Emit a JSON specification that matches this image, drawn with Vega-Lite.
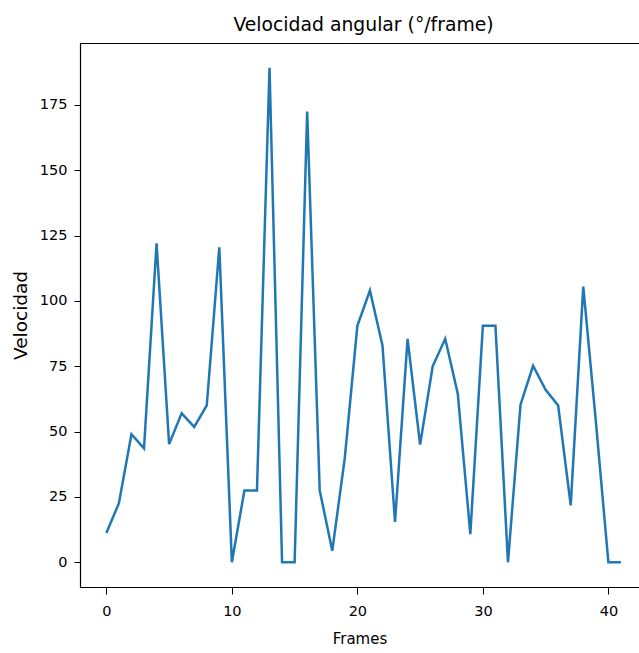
{
  "$schema": "https://vega.github.io/schema/vega-lite/v6.json",
  "width": 559,
  "height": 544,
  "autosize": {"type": "none"},
  "padding": {"left": 80, "top": 43, "right": 0, "bottom": 66},
  "title": {
    "text": "Velocidad angular (°/frame)",
    "font": "DejaVu Sans",
    "fontSize": 18.8,
    "fontWeight": "normal",
    "color": "#000000",
    "anchor": "middle",
    "frame": "group",
    "baseline": "alphabetic",
    "offset": 14,
    "dx": 4,
    "dy": 21
  },
  "config": {
    "view": {"stroke": null},
    "font": "DejaVu Sans"
  },
  "data": {
    "values": [
      {"frame": 0, "v": 11.2}, {"frame": 1, "v": 22.6}, {"frame": 2, "v": 49}, {"frame": 3, "v": 43.6},
      {"frame": 4, "v": 122}, {"frame": 5, "v": 45.2}, {"frame": 6, "v": 57}, {"frame": 7, "v": 51.8},
      {"frame": 8, "v": 60}, {"frame": 9, "v": 120.5}, {"frame": 10, "v": 0}, {"frame": 11, "v": 27.5},
      {"frame": 12, "v": 27.5}, {"frame": 13, "v": 189.2}, {"frame": 14, "v": 0}, {"frame": 15, "v": 0},
      {"frame": 16, "v": 172.5}, {"frame": 17, "v": 27.5}, {"frame": 18, "v": 4.4}, {"frame": 19, "v": 40},
      {"frame": 20, "v": 90.5}, {"frame": 21, "v": 104}, {"frame": 22, "v": 83}, {"frame": 23, "v": 15.4},
      {"frame": 24, "v": 85.5}, {"frame": 25, "v": 45}, {"frame": 26, "v": 75}, {"frame": 27, "v": 85.5},
      {"frame": 28, "v": 64.5}, {"frame": 29, "v": 10.8}, {"frame": 30, "v": 90.5}, {"frame": 31, "v": 90.5},
      {"frame": 32, "v": 0}, {"frame": 33, "v": 60.3}, {"frame": 34, "v": 75.2}, {"frame": 35, "v": 66},
      {"frame": 36, "v": 60}, {"frame": 37, "v": 21.8}, {"frame": 38, "v": 105.5}, {"frame": 39, "v": 54},
      {"frame": 40, "v": 0}, {"frame": 41, "v": 0}
    ]
  },
  "layer": [
    {
      "mark": {"type": "line", "color": "#1f77b4", "strokeWidth": 2.5, "clip": true},
      "encoding": {
        "x": {
          "field": "frame", "type": "quantitative",
          "scale": {"domain": [-2.1, 42.44], "nice": false, "zero": false},
          "axis": {
            "values": [0, 10, 20, 30, 40],
            "grid": false,
            "domainColor": "#000000", "domainWidth": 1.2,
            "tickColor": "#000000", "tickSize": 7, "tickWidth": 1,
            "labelFontSize": 14.5, "labelColor": "#000000", "labelPadding": 10,
            "labelFont": "DejaVu Sans",
            "title": "Frames", "titleFontSize": 15, "titleFontWeight": "normal",
            "titleColor": "#000000", "titlePadding": 14, "titleFont": "DejaVu Sans"
          }
        },
        "y": {
          "field": "v", "type": "quantitative",
          "scale": {"domain": [-9.46, 198.7], "nice": false, "zero": false},
          "axis": {
            "values": [0, 25, 50, 75, 100, 125, 150, 175],
            "grid": false,
            "domainColor": "#000000", "domainWidth": 1.2,
            "tickColor": "#000000", "tickSize": 6, "tickWidth": 1,
            "labelFontSize": 14.5, "labelColor": "#000000", "labelPadding": 7,
            "labelFont": "DejaVu Sans",
            "title": "Velocidad", "titleFontSize": 18.5, "titleFontWeight": "normal",
            "titleColor": "#000000", "titlePadding": 9, "titleFont": "DejaVu Sans"
          }
        }
      }
    },
    {
      "mark": {"type": "line", "opacity": 0},
      "encoding": {
        "x": {
          "field": "frame", "type": "quantitative",
          "axis": {"orient": "top", "labels": false, "ticks": false, "grid": false, "title": null,
                   "domainColor": "#000000", "domainWidth": 1.2}
        },
        "y": {"field": "v", "type": "quantitative"}
      }
    }
  ],
  "resolve": {"axis": {"x": "independent"}}
}
